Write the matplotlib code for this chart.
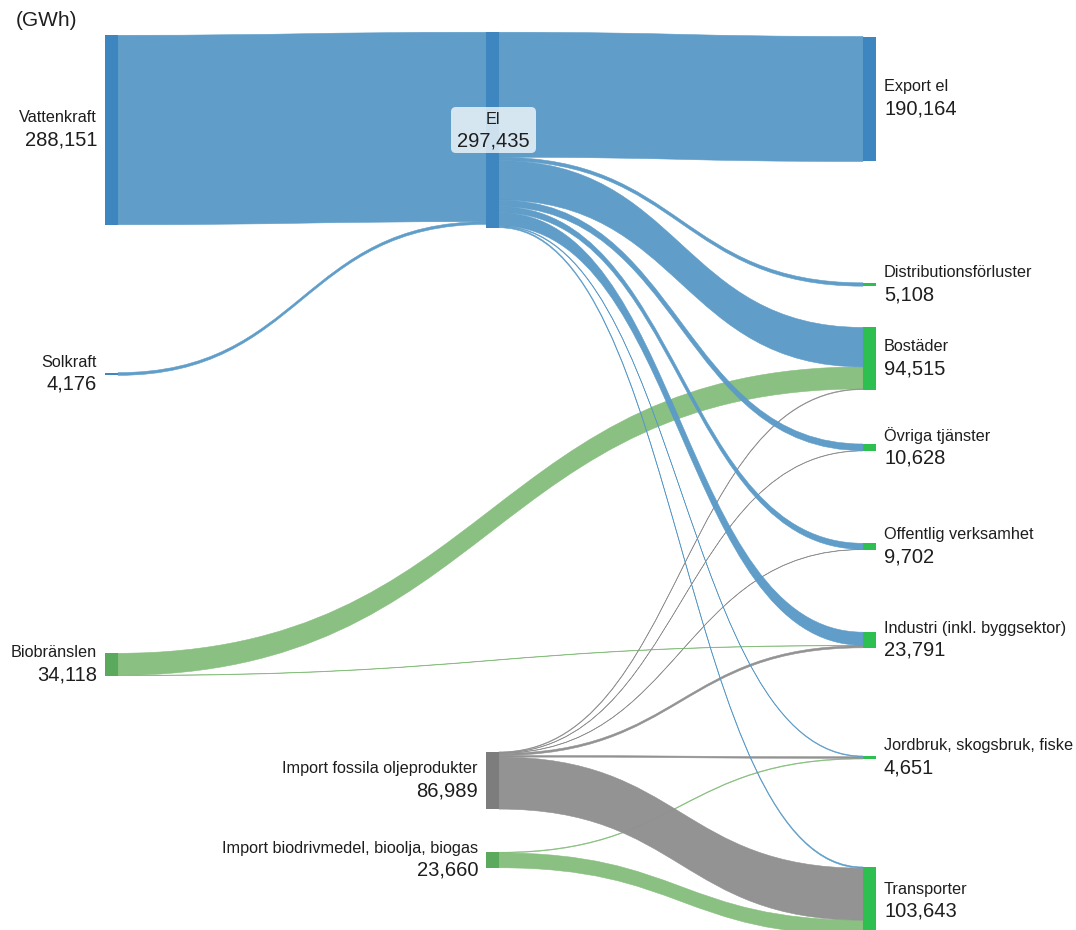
import matplotlib.pyplot as plt
from matplotlib.path import Path
from matplotlib.patches import PathPatch, Rectangle, FancyBboxPatch

plt.rcParams['font.family'] = ['Liberation Sans', 'DejaVu Sans']

# noder och värden (GWh)
nodes = ['Vattenkraft', 'Solkraft', 'Biobränslen',
         'El', 'Import fossila oljeprodukter', 'Import biodrivmedel, bioolja, biogas',
         'Export el', 'Distributionsförluster', 'Bostäder', 'Övriga tjänster',
         'Offentlig verksamhet', 'Industri (inkl. byggsektor)',
         'Jordbruk, skogsbruk, fiske', 'Transporter']
node_totals = [288151, 4176, 34118, 297435, 86989, 23660,
               190164, 5108, 94515, 10628, 9702, 23791, 4651, 103643]

# flöden: källa -> mål
sources = [0, 1,
           3, 3, 3, 3, 3, 3, 3, 3,
           2, 2,
           4, 4, 4, 4, 4, 4,
           5, 5]
targets = [3, 3,
           6, 7, 8, 9, 10, 11, 12, 13,
           8, 11,
           8, 9, 10, 11, 12, 13,
           12, 13]
values = [288151, 4176,
          190164, 5108, 60000, 10000, 9100, 19973, 1200, 1890,
          33500, 618,
          1015, 628, 602, 3200, 2400, 79144,
          1051, 22609]

# layout
node_col = [0, 0, 0, 1, 1, 1, 2, 2, 2, 2, 2, 2, 2, 2]
node_yc = [130, 374, 664.5, 130, 780.5, 860,
           99, 284.5, 358.5, 447.5, 546.5, 640, 757.5, 901]
col_x = [105, 486, 863]
node_w = 13
scale = 195.5 / 297435  # px per GWh

blue_n, blue_l = '#3d86bf', '#5b9bc8'
green_n, green_l = '#5aa95c', '#86be7d'
grey_n, grey_l = '#7d7d7d', '#909090'
cons_n = '#2dbf4f'
node_colors = [blue_n, blue_n, green_n, blue_n, grey_n, green_n,
               blue_n] + [cons_n] * 7
link_colors = {0: blue_l, 1: blue_l, 3: blue_l, 2: green_l, 5: green_l, 4: grey_l}

fig = plt.figure(figsize=(10.76, 9.30), dpi=100)
ax = fig.add_axes([0, 0, 1, 1])
ax.set_xlim(0, 1076)
ax.set_ylim(930, 0)
ax.axis('off')

n = len(nodes)
inflow = [0] * n
outflow = [0] * n
for s, t, v in zip(sources, targets, values):
    outflow[s] += v
    inflow[t] += v
heights = [max(inflow[i], outflow[i]) * scale for i in range(n)]
tops = [node_yc[i] - heights[i] / 2 for i in range(n)]

# positioner för flödena vid källa och mål
links = list(range(len(values)))
src_off = {}
off = tops[:]
for i in sorted(links, key=lambda j: (sources[j], node_yc[targets[j]])):
    src_off[i] = off[sources[i]]
    off[sources[i]] += values[i] * scale
tgt_off = {}
off = tops[:]
for i in sorted(links, key=lambda j: (targets[j], node_yc[sources[j]])):
    tgt_off[i] = off[targets[i]]
    off[targets[i]] += values[i] * scale

draw_order = sorted(links, key=lambda j: {2: 0, 5: 0, 4: 1}.get(sources[j], 2))
for i in draw_order:
    s, t = sources[i], targets[i]
    w = values[i] * scale
    x0 = col_x[node_col[s]] + node_w
    x1 = col_x[node_col[t]]
    xm = (x0 + x1) / 2
    y0, y1 = src_off[i], tgt_off[i]
    verts = [(x0, y0), (xm, y0), (xm, y1), (x1, y1),
             (x1, y1 + w), (xm, y1 + w), (xm, y0 + w), (x0, y0 + w), (x0, y0)]
    codes = [Path.MOVETO, Path.CURVE4, Path.CURVE4, Path.CURVE4,
             Path.LINETO, Path.CURVE4, Path.CURVE4, Path.CURVE4, Path.CLOSEPOLY]
    c = link_colors[s]
    ax.add_patch(PathPatch(Path(verts, codes), facecolor=c, edgecolor=c,
                           lw=0.4, alpha=0.97))

for i in range(n):
    ax.add_patch(Rectangle((col_x[node_col[i]], tops[i]), node_w, heights[i],
                           facecolor=node_colors[i], edgecolor='none'))

name_fs, val_fs = 11.7, 14.5
txt_c = '#1e1e1e'
for i in range(n):
    name = nodes[i]
    val = f'{node_totals[i]:,}'
    yc = node_yc[i]
    if i == 3:
        ax.add_patch(FancyBboxPatch((451, 107), 85, 46,
                                    boxstyle='round,pad=0,rounding_size=5',
                                    facecolor='white', alpha=0.75, edgecolor='none'))
        ax.text(493, 119, name, ha='center', va='center', fontsize=name_fs, color=txt_c)
        ax.text(493, 141, val, ha='center', va='center', fontsize=val_fs, color=txt_c)
    elif node_col[i] == 2:
        x = col_x[2] + node_w + 8
        ax.text(x, yc - 12, name, ha='left', va='center', fontsize=name_fs, color=txt_c)
        ax.text(x, yc + 10, val, ha='left', va='center', fontsize=val_fs, color=txt_c)
    else:
        x = col_x[node_col[i]] - 8
        ax.text(x, yc - 12, name, ha='right', va='center', fontsize=name_fs, color=txt_c)
        ax.text(x, yc + 10, val, ha='right', va='center', fontsize=val_fs, color=txt_c)

ax.text(16, 20, '(GWh)', ha='left', va='center', fontsize=15, color=txt_c)

fig.savefig('out.png', dpi=100)
